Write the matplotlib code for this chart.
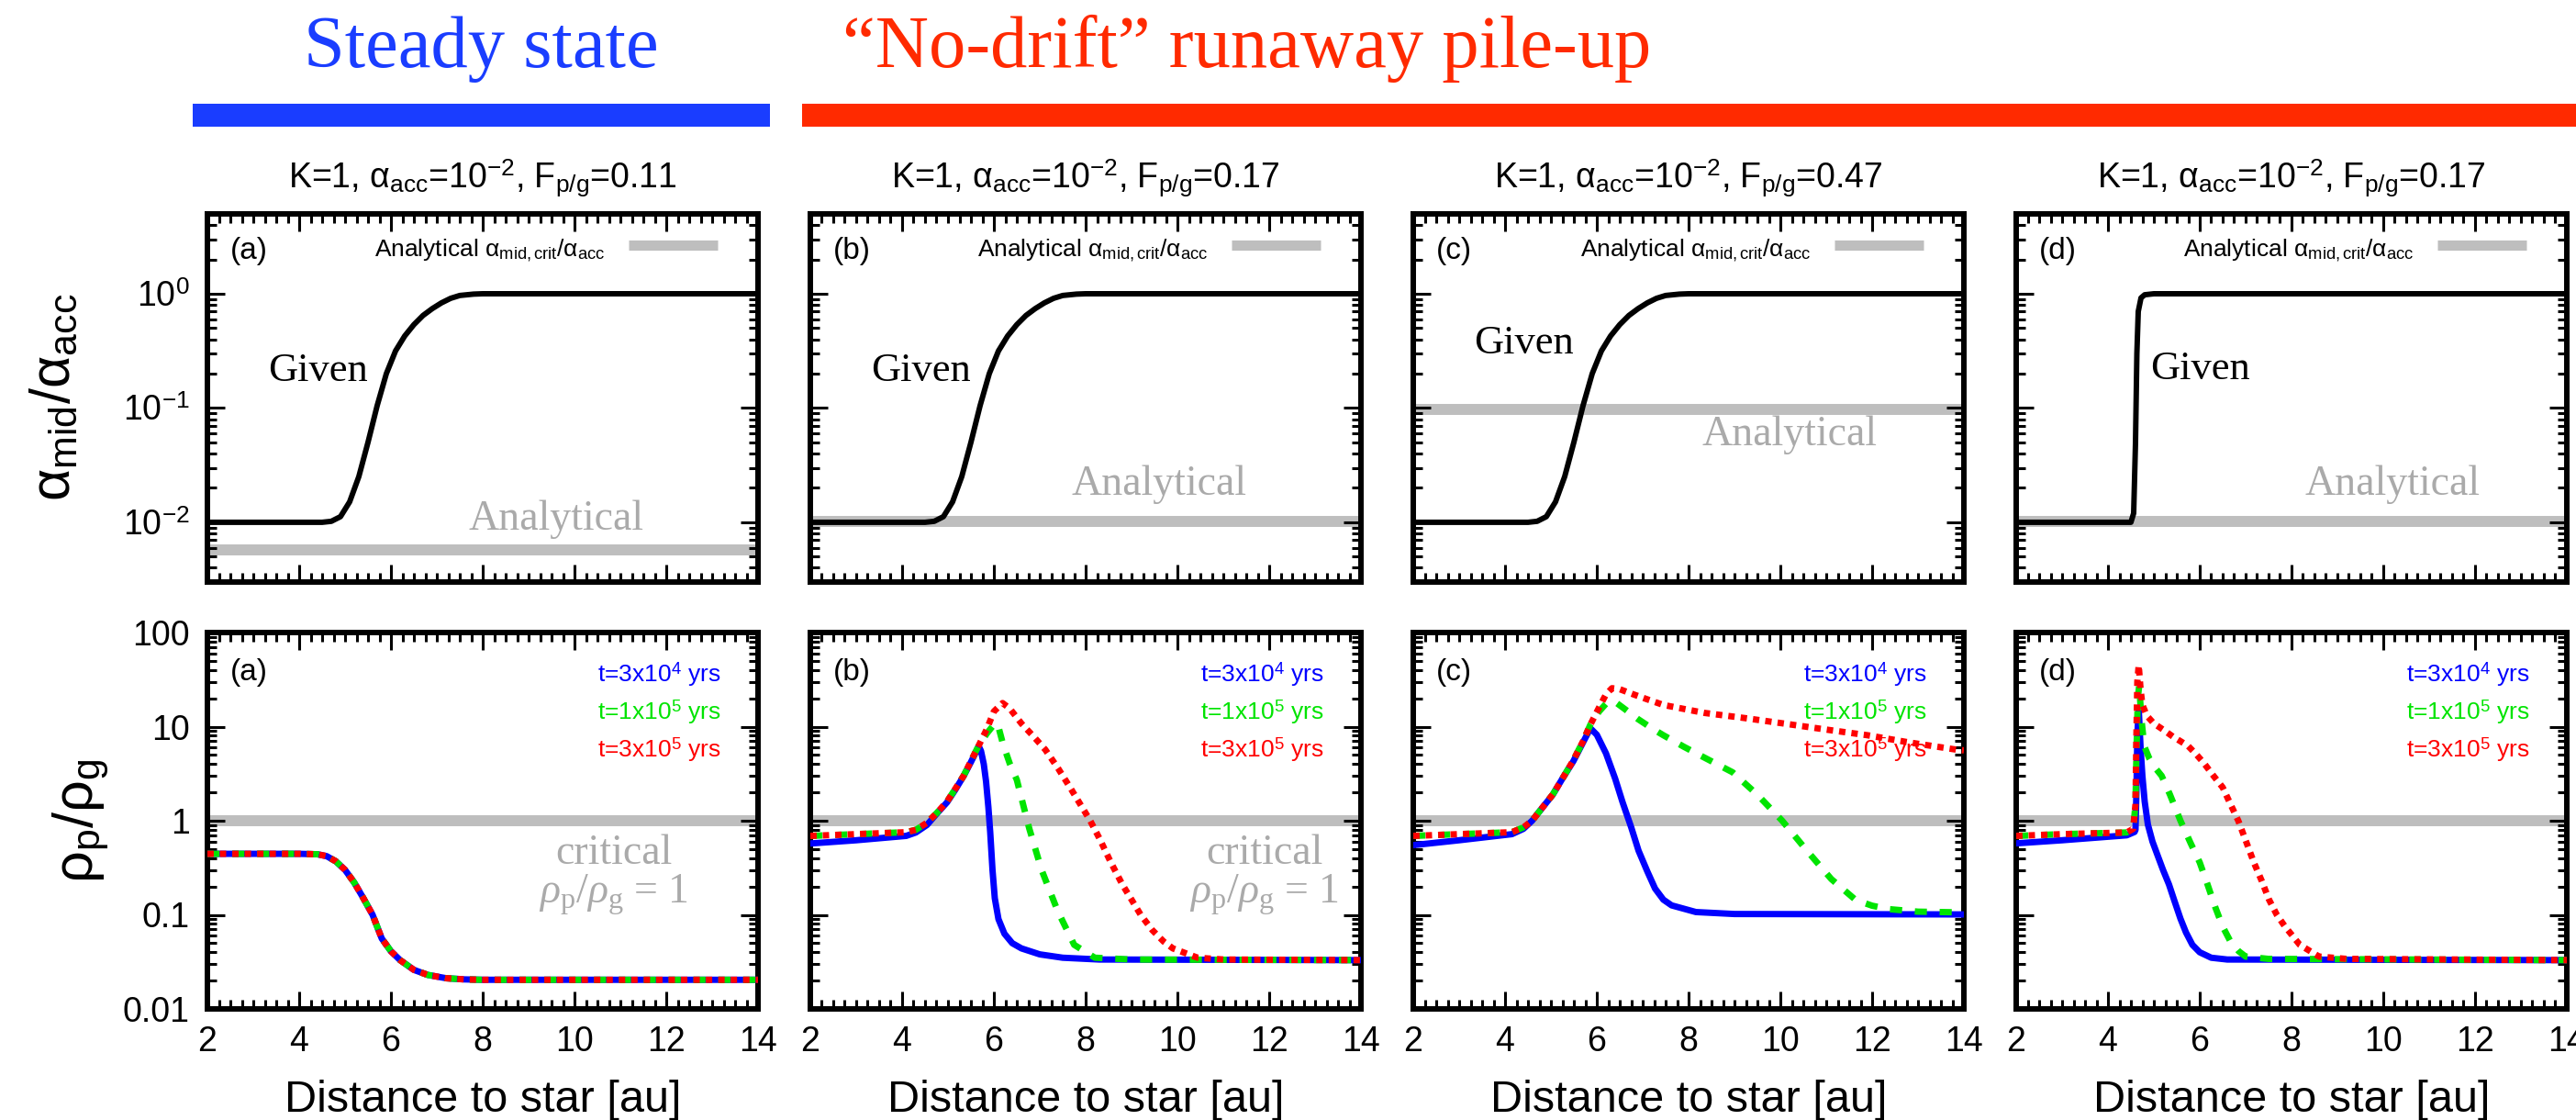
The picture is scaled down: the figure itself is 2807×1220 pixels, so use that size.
import numpy as np
import matplotlib
matplotlib.use("Agg")
import matplotlib.pyplot as plt
from matplotlib.ticker import FixedLocator, LogLocator, MultipleLocator, NullFormatter
from matplotlib.patches import Rectangle

plt.rcParams['font.family'] = ['Liberation Sans', 'DejaVu Sans']
plt.rcParams['mathtext.fontset'] = 'custom'
plt.rcParams['mathtext.rm'] = 'Liberation Serif'
plt.rcParams['mathtext.it'] = 'Liberation Serif:italic'
plt.rcParams['mathtext.sf'] = 'Liberation Sans'
plt.rcParams['mathtext.bf'] = 'Liberation Sans:bold'

# ---- data ----
panel_tags = ['(a)', '(b)', '(c)', '(d)']
f_pg = ['0.11', '0.17', '0.47', '0.17']
alpha_analytic = [0.0057, 0.0102, 0.097, 0.0102]

# given alpha_mid/alpha_acc (panels a-c share one profile)
x_given = [2.0, 4.5, 4.7, 4.9, 5.1, 5.3, 5.5, 5.7, 5.9, 6.1, 6.3, 6.5, 6.7, 6.9,
           7.1, 7.3, 7.5, 7.8, 8.0, 14.0]
y_given = [0.01, 0.01, 0.0102, 0.0112, 0.0151, 0.0251, 0.0501, 0.105, 0.2, 0.316,
           0.427, 0.537, 0.646, 0.741, 0.832, 0.912, 0.966, 0.993, 1.0, 1.0]
x_given_d = [2.0, 4.5, 4.56, 4.6, 4.63, 4.66, 4.72, 4.8, 5.0, 14.0]
y_given_d = [0.01, 0.01, 0.012, 0.05, 0.3, 0.7, 0.92, 0.98, 1.0, 1.0]

# panel a: all three times identical
x_a = [2.0, 4.0, 4.4, 4.6, 4.8, 5.0, 5.2, 5.4, 5.6, 5.8, 6.0, 6.2, 6.5, 6.8,
       7.2, 7.6, 8.0, 14.0]
y_a = [0.445, 0.445, 0.44, 0.42, 0.37, 0.30, 0.22, 0.15, 0.10, 0.056, 0.041,
       0.033, 0.026, 0.023, 0.0212, 0.0206, 0.0204, 0.0204]

# panel b
xb_blue = [2.0, 3.0, 4.09, 4.3, 4.54, 4.75, 4.98, 5.15, 5.34, 5.5, 5.62, 5.67,
           5.72, 5.78, 5.83, 5.88, 5.92, 5.97, 6.02, 6.1, 6.23, 6.4, 6.6, 7.0,
           7.5, 8.3, 14.0]
yb_blue = [0.573, 0.62, 0.69, 0.75, 0.9, 1.18, 1.57, 2.1, 2.98, 4.2, 5.5, 6.2,
           5.5, 4.0, 2.6, 1.4, 0.76, 0.3, 0.15, 0.09, 0.063, 0.05, 0.044, 0.038,
           0.035, 0.0335, 0.033]
xb_green = [2.0, 3.0, 4.09, 4.3, 4.54, 4.75, 4.98, 5.15, 5.34, 5.5, 5.67, 5.85,
            6.0, 6.08, 6.2, 6.35, 6.5, 6.77, 7.04, 7.39, 7.75, 8.2, 9.0, 14.0]
yb_green = [0.69, 0.72, 0.755, 0.8, 0.95, 1.2, 1.6, 2.15, 3.0, 4.3, 6.3, 8.5,
            10.5, 10.8, 6.5, 4.0, 2.72, 0.83, 0.30, 0.11, 0.048, 0.035, 0.0335, 0.033]
xb_red = [2.0, 3.0, 4.09, 4.3, 4.54, 4.75, 4.98, 5.15, 5.34, 5.5, 5.67, 5.85,
          6.0, 6.19, 6.35, 6.6, 6.85, 7.12, 7.4, 7.66, 7.9, 8.1, 8.3, 8.55, 8.8,
          9.0, 9.2, 9.45, 9.7, 9.9, 10.44, 11.0, 14.0]
yb_red = [0.69, 0.72, 0.755, 0.8, 0.95, 1.2, 1.6, 2.15, 3.0, 4.3, 6.3, 9.5,
          14.5, 17.8, 15.5, 10.8, 8.0, 5.7, 3.6, 2.26, 1.45, 1.0, 0.65, 0.36,
          0.21, 0.145, 0.1, 0.069, 0.052, 0.044, 0.035, 0.0335, 0.033]

# panel c
xc_blue = [2.0, 3.0, 4.15, 4.4, 4.59, 4.8, 5.04, 5.25, 5.49, 5.7, 5.86, 6.0,
           6.2, 6.4, 6.56, 6.75, 6.91, 7.1, 7.27, 7.45, 7.63, 8.16, 9.0, 14.0]
yc_blue = [0.55, 0.62, 0.72, 0.82, 1.0, 1.35, 1.89, 2.8, 4.3, 6.8, 9.6, 8.2,
           5.2, 2.8, 1.58, 0.85, 0.48, 0.29, 0.19, 0.145, 0.126, 0.107, 0.102, 0.101]
xc_green = [2.0, 3.0, 4.15, 4.4, 4.59, 4.8, 5.04, 5.25, 5.49, 5.7, 5.86, 6.05,
            6.2, 6.38, 6.6, 6.9, 7.2, 7.45, 7.9, 8.34, 8.96, 9.5, 10.04, 10.58,
            11.11, 11.64, 12.0, 12.36, 13.0, 14.0]
yc_green = [0.69, 0.72, 0.755, 0.85, 1.0, 1.35, 1.9, 2.8, 4.4, 7.0, 10.5, 14.5,
            17.5, 18.6, 15.5, 12.0, 9.6, 8.1, 6.1, 4.7, 3.27, 1.89, 1.0, 0.48,
            0.24, 0.144, 0.125, 0.115, 0.108, 0.106]
xc_red = [2.0, 3.0, 4.15, 4.4, 4.59, 4.8, 5.04, 5.25, 5.49, 5.7, 5.86, 6.05,
          6.2, 6.33, 6.5, 6.8, 7.1, 7.45, 8.34, 9.24, 10.13, 11.0, 11.9, 12.8,
          13.83, 14.0]
yc_red = [0.69, 0.72, 0.755, 0.85, 1.0, 1.35, 1.9, 2.8, 4.4, 7.0, 10.5, 16.0,
          22.0, 25.6, 25.0, 22.0, 19.5, 17.0, 14.0, 12.3, 10.7, 9.3, 8.1, 6.8,
          5.7, 5.6]

# panel d
xd_blue = [2.0, 3.0, 4.41, 4.58, 4.6, 4.62, 4.64, 4.67, 4.71, 4.75, 4.8, 4.87,
           4.97, 5.08, 5.2, 5.33, 5.45, 5.58, 5.7, 5.84, 6.0, 6.25, 6.6, 14.0]
yd_blue = [0.575, 0.62, 0.70, 0.76, 0.8, 2.0, 8.0, 15.6, 6.0, 3.0, 1.6, 0.91,
           0.6, 0.43, 0.3, 0.21, 0.14, 0.091, 0.065, 0.048, 0.04, 0.035, 0.0335, 0.033]
xd_green = [2.0, 3.0, 4.41, 4.55, 4.6, 4.62, 4.65, 4.68, 4.73, 4.79, 4.9, 5.0,
            5.17, 5.35, 5.58, 5.8, 6.0, 6.17, 6.34, 6.5, 6.67, 6.85, 7.0, 7.5, 14.0]
yd_green = [0.69, 0.72, 0.75, 0.82, 1.5, 5.0, 20.0, 27.0, 12.0, 6.2, 4.6, 3.8,
            3.0, 1.9, 1.0, 0.58, 0.36, 0.21, 0.12, 0.075, 0.052, 0.041, 0.036,
            0.034, 0.033]
xd_red = [2.0, 3.0, 4.41, 4.55, 4.6, 4.62, 4.64, 4.67, 4.71, 4.75, 4.85, 5.0,
          5.2, 5.42, 5.6, 5.75, 5.92, 6.09, 6.3, 6.5, 6.67, 6.84, 7.0, 7.18,
          7.35, 7.51, 7.68, 7.85, 8.18, 8.6, 9.2, 14.0]
yd_red = [0.69, 0.72, 0.75, 0.82, 1.5, 8.0, 30.0, 45.0, 25.0, 17.0, 13.0, 10.8,
          9.3, 7.8, 6.9, 6.2, 5.1, 4.1, 3.0, 2.26, 1.5, 1.0, 0.62, 0.36, 0.23,
          0.145, 0.1, 0.076, 0.048, 0.036, 0.034, 0.033]

bottom_series = [
    [(x_a, y_a), (x_a, y_a), (x_a, y_a)],
    [(xb_blue, yb_blue), (xb_green, yb_green), (xb_red, yb_red)],
    [(xc_blue, yc_blue), (xc_green, yc_green), (xc_red, yc_red)],
    [(xd_blue, yd_blue), (xd_green, yd_green), (xd_red, yd_red)],
]
time_labels = [r't=3x10$^{\mathsf{4}}$ yrs', r't=1x10$^{\mathsf{5}}$ yrs',
               r't=3x10$^{\mathsf{5}}$ yrs']
time_colors = ['#0000ff', '#00e400', '#ff0000']

given_pos = [(4.4, 0.21), (4.4, 0.21), (4.4, 0.37), (6.0, 0.22)]
analytic_pos = [(9.6, 0.0086), (9.6, 0.0175), (10.2, 0.047), (10.2, 0.0175)]
critical_x = [10.85, 11.9, None, None]

# ---- layout ----
W, H = 2807, 1220
fig = plt.figure(figsize=(W / 100, H / 100), dpi=100)
lefts = [226, 883, 1540, 2197]
pw = 600
GRAY = '#bebebe'
TXTGRAY = '#aaaaaa'
BLUE_T = '#1a3dff'
RED_T = '#ff2a00'


def style_axis(ax):
    for s in ax.spines.values():
        s.set_linewidth(4.3)
    ax.tick_params(which='both', direction='in', top=True, right=True,
                   width=2.2, labelsize=27)
    ax.tick_params(which='major', length=14)
    ax.tick_params(which='minor', length=7)
    ax.set_xlim(2, 14)
    ax.xaxis.set_major_locator(MultipleLocator(2))
    ax.xaxis.set_minor_locator(MultipleLocator(0.25))
    ax.yaxis.set_minor_locator(LogLocator(base=10, subs=np.arange(2, 10)))
    ax.yaxis.set_minor_formatter(NullFormatter())


for i in range(4):
    x0 = lefts[i] / W
    # top row
    ax = fig.add_axes([x0, 1 - 634 / H, pw / W, 401 / H])
    ax.set_yscale('log')
    style_axis(ax)
    ax.set_ylim(0.003, 5)
    ax.yaxis.set_major_locator(FixedLocator([0.01, 0.1, 1]))
    ax.tick_params(axis='x', labelbottom=False)
    if i == 0:
        ax.set_yticklabels([r'10$^{\mathsf{-2}}$', r'10$^{\mathsf{-1}}$', r'10$^{\mathsf{0}}$'])
        ax.tick_params(axis='y', pad=14)
    else:
        ax.tick_params(axis='y', labelleft=False)
    ax.axhline(alpha_analytic[i], color=GRAY, lw=8.6, zorder=1)
    if i == 3:
        ax.plot(x_given_d, y_given_d, color='black', lw=4.3, zorder=3)
    else:
        ax.plot(x_given, y_given, color='black', lw=4.3, zorder=3)
    ax.text(0.042, 0.90, panel_tags[i], transform=ax.transAxes, fontsize=24,
            va='center', ha='left')
    ax.text(0.722, 0.90, r'Analytical α$_{\mathsf{mid,crit}}$/α$_{\mathsf{acc}}$',
            transform=ax.transAxes, fontsize=19, va='center', ha='right')
    ax.plot([0.765, 0.927], [0.915, 0.915], transform=ax.transAxes, color=GRAY,
            lw=8, solid_capstyle='butt')
    gx, gy = given_pos[i]
    ax.text(gx, gy, 'Given', fontsize=32, family='Liberation Serif',
            ha='center', va='center')
    axx, axy = analytic_pos[i]
    ax.text(axx, axy, 'Analytical', fontsize=33, family='Liberation Serif',
            color=TXTGRAY, ha='center', va='baseline')
    fig.text((lefts[i] + pw / 2) / W, 1 - 205 / H,
             r'K=1, α$_{\mathsf{acc}}$=10$^{\mathsf{-2}}$, F$_{\mathsf{p/g}}$=' + f_pg[i],
             fontsize=27, ha='center', va='baseline')

    # bottom row
    ax = fig.add_axes([x0, 1 - 1099 / H, pw / W, 410 / H])
    ax.set_yscale('log')
    style_axis(ax)
    ax.set_ylim(0.01, 100)
    ax.yaxis.set_major_locator(FixedLocator([0.01, 0.1, 1, 10, 100]))
    ax.tick_params(axis='x', pad=13)
    if i == 0:
        ax.set_yticklabels(['0.01', '0.1', '1', '10', '100'])
        ax.tick_params(axis='y', pad=14)
    else:
        ax.tick_params(axis='y', labelleft=False)
    ax.axhline(1.0, color=GRAY, lw=8.6, zorder=1)
    (xb, yb), (xg, yg), (xr, yr) = bottom_series[i]
    ax.plot(xb, yb, color=time_colors[0], lw=5, zorder=3)
    ax.plot(xg, yg, color=time_colors[1], lw=5, dashes=(1.9, 2.0),
            dash_capstyle='butt', zorder=4)
    ax.plot(xr, yr, color=time_colors[2], lw=5, dashes=(1.0, 0.95),
            dash_capstyle='butt', zorder=5)
    ax.text(0.042, 0.895, panel_tags[i], transform=ax.transAxes, fontsize=24,
            va='center', ha='left')
    for k in range(3):
        ax.text(0.933, 0.888 - 0.099 * k, time_labels[k], color=time_colors[k],
                transform=ax.transAxes, fontsize=19, ha='right', va='center')
    if critical_x[i] is not None:
        ax.text(critical_x[i], 0.35, 'critical', fontsize=33,
                family='Liberation Serif', color=TXTGRAY, ha='center', va='baseline')
        ax.text(critical_x[i], 0.132, r'$\rho_{\mathrm{p}}/\rho_{\mathrm{g}}$ = 1',
                fontsize=33, family='Liberation Serif', color=TXTGRAY,
                ha='center', va='baseline')
    fig.text((lefts[i] + pw / 2) / W, 1 - 1211 / H, 'Distance to star [au]',
             fontsize=35, ha='center', va='baseline')

# y labels
fig.text(60 / W, 1 - 433 / H, r'α$_{\mathsf{mid}}$/α$_{\mathsf{acc}}$',
         rotation=90, fontsize=44, ha='center', va='center')
fig.text(88 / W, 1 - 894 / H, r'ρ$_{\mathsf{p}}$/ρ$_{\mathsf{g}}$',
         rotation=90, fontsize=44, ha='center', va='center')

# header
fig.text(524 / W, 1 - 73 / H, 'Steady state', fontsize=58,
         family='Liberation Serif', color=BLUE_T, ha='center', va='baseline')
fig.text(918 / W, 1 - 73 / H, '\u201cNo-drift\u201d runaway pile-up', fontsize=58,
         family='Liberation Serif', color=RED_T, ha='left', va='baseline')
fig.add_artist(Rectangle((210 / W, 1 - 138 / H), 629 / W, 25 / H,
                         transform=fig.transFigure, color=BLUE_T, lw=0))
fig.add_artist(Rectangle((874 / W, 1 - 138 / H), (W - 874) / W, 25 / H,
                         transform=fig.transFigure, color=RED_T, lw=0))

fig.savefig('out.png', dpi=100)
